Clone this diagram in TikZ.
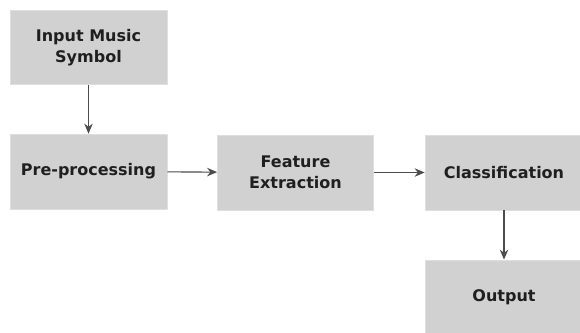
\documentclass[tikz,border=0pt]{standalone}
\usepackage{fontspec}
\setmainfont{DejaVu Sans}
\usetikzlibrary{arrows.meta}
\begin{document}
\begin{tikzpicture}[x=1pt,y=-1pt,
  blk/.style={draw=gray!25,fill=black!18,line width=0.8pt,font=\bfseries\fontsize{16}{21}\selectfont,align=center,text=black!88},
  arr/.style={draw=black!70,line width=1.1pt,-{Stealth[length=10pt,width=8.5pt]}}]
\useasboundingbox[fill=white] (0,0) rectangle (580,332);
\node[blk,minimum width=157pt,minimum height=74pt] (in) at (88.5,47.5) {Input Music\\Symbol};
\node[blk,minimum width=157pt,minimum height=75pt] (pre) at (88.5,171.5) {Pre-processing};
\node[blk,minimum width=156pt,minimum height=75pt] (fe) at (295.5,172.5) {Feature\\Extraction};
\node[blk,minimum width=158pt,minimum height=75pt] (cl) at (504,172.5) {Classification};
\node[blk,minimum width=158pt,minimum height=74pt] (out) at (504,297) {Output};
\draw[arr] (in) -- (pre);
\draw[arr] (pre) -- (fe);
\draw[arr] (fe) -- (cl);
\draw[arr] (cl) -- (out);
\end{tikzpicture}
\end{document}
